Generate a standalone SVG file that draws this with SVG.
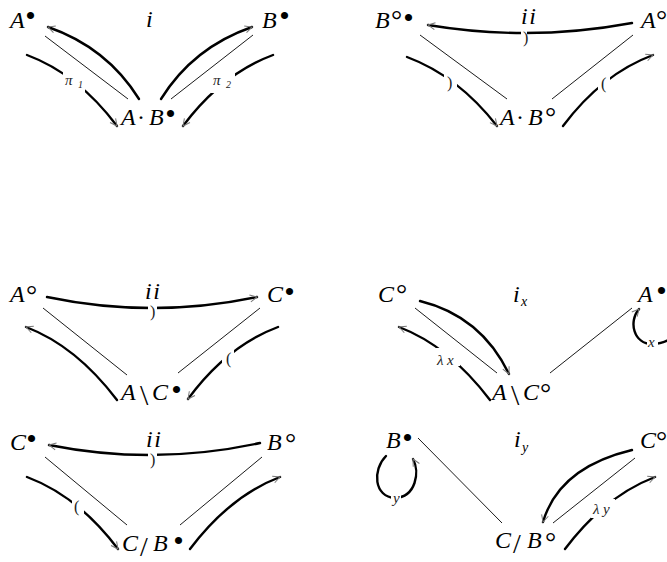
<svg xmlns="http://www.w3.org/2000/svg" width="667" height="562" viewBox="0 0 667 562">
<style>
.m{font-family:"Liberation Serif","Times New Roman",serif;font-style:italic;font-size:24px;fill:#000}
.u{font-style:normal}
.lab{font-family:"Liberation Serif","Times New Roman",serif;font-style:italic;font-size:15px;fill:#222}
.par{font-family:"Liberation Serif","Times New Roman",serif;font-size:16px;fill:#222}
.thick{fill:none;stroke:#000;stroke-width:2.4;stroke-linecap:round}
.thin{fill:none;stroke:#000;stroke-width:0.9}
.gap{fill:#fff}
</style>
<defs>
<marker id="ah" viewBox="-9 -5 10 10" refX="0" refY="0" markerWidth="10" markerHeight="10" markerUnits="userSpaceOnUse" orient="auto">
<path d="M-7,-3.5 L0,0 L-7,3.5" fill="none" stroke="#777" stroke-width="1"/>
</marker>
</defs>
<rect width="667" height="562" fill="#fff"/>
<g id="connectors">
<line class="thin" x1="45" y1="36" x2="128" y2="99"/>
<line class="thin" x1="171" y1="99" x2="253" y2="35"/>
<path class="thick" d="M139,99 Q107,47.5 48,27" marker-end="url(#ah)"/>
<path class="thick" d="M27,55 Q78,74 117,126" marker-end="url(#ah)"/>
<path class="thick" d="M161,99 Q193,47.5 252,27" marker-end="url(#ah)"/>
<path class="thick" d="M273,55 Q222,74 183,126" marker-end="url(#ah)"/>
<line class="thin" x1="420" y1="35" x2="507" y2="99"/>
<line class="thin" x1="552" y1="99" x2="633" y2="35"/>
<path class="thick" d="M632,23 Q530,42 428,25" marker-end="url(#ah)"/>
<path class="thick" d="M407,57 Q458,76 497,126" marker-end="url(#ah)"/>
<path class="thick" d="M563,126 Q602,74 653,55" marker-end="url(#ah)"/>
<line class="thin" x1="43" y1="308" x2="127" y2="375"/>
<line class="thin" x1="178" y1="373" x2="260" y2="308"/>
<path class="thick" d="M47,297 Q152,319 257,297" marker-end="url(#ah)"/>
<path class="thick" d="M117,400 Q76,346 26,327" marker-end="url(#ah)"/>
<path class="thick" d="M278,327 Q227,346 188,399" marker-end="url(#ah)"/>
<line class="thin" x1="415" y1="308" x2="497" y2="373"/>
<line class="thin" x1="550" y1="373" x2="632" y2="308"/>
<path class="thick" d="M420,301 Q481,316 509,374" marker-end="url(#ah)"/>
<path class="thick" d="M490,400 Q449,346 399,327" marker-end="url(#ah)"/>
<path class="thick" d="M676,312 C682,335 668,344 652,344 C634,344 628,322 639,309" marker-end="url(#ah)"/>
<line class="thin" x1="45" y1="457" x2="127" y2="525"/>
<line class="thin" x1="180" y1="525" x2="262" y2="457"/>
<path class="thick" d="M260,443 Q154,466 49,445" marker-end="url(#ah)"/>
<path class="thick" d="M27,477 Q78,496 118,549" marker-end="url(#ah)"/>
<path class="thick" d="M190,549 Q230,496 280,477" marker-end="url(#ah)"/>
<line class="thin" x1="418" y1="438" x2="502" y2="523"/>
<line class="thin" x1="553" y1="523" x2="635" y2="458"/>
<path class="thick" d="M632,450 Q559,467.5 543,522" marker-end="url(#ah)"/>
<path class="thick" d="M565,549 Q605,496 655,477" marker-end="url(#ah)"/>
<path class="thick" d="M386,456 C372,470 374,497 395,498 C416,497 420,472 413,459" marker-end="url(#ah)"/>
<rect class="gap" x="63" y="72" width="22" height="21"/>
<rect class="gap" x="211" y="72" width="24" height="21"/>
<rect class="gap" x="444" y="74" width="13" height="18"/>
<rect class="gap" x="598" y="74" width="12" height="20"/>
<rect class="gap" x="521" y="29" width="6" height="11"/>
<rect class="gap" x="148" y="300" width="9" height="18"/>
<rect class="gap" x="222" y="346" width="12" height="22"/>
<rect class="gap" x="436" y="348" width="24" height="18"/>
<rect class="gap" x="647" y="338" width="11" height="11"/>
<rect class="gap" x="148" y="448" width="9" height="18"/>
<rect class="gap" x="72" y="496" width="12" height="20"/>
<rect class="gap" x="591" y="499" width="24" height="19"/>
<rect class="gap" x="391" y="494" width="10" height="11"/>
<text class="lab" x="65" y="85">π<tspan font-size="10" x="78" y="88">1</tspan></text>
<text class="lab" x="213" y="85">π<tspan font-size="10" x="226" y="88">2</tspan></text>
<text class="par" x="447" y="88">)</text>
<text class="par" x="601" y="89">(</text>
<text class="par" font-size="8" x="523" y="43">)</text>
<text class="par" font-size="14" x="150" y="317">)</text>
<text class="par" x="226" y="364">(</text>
<text class="lab" x="437" y="365">λ<tspan x="447">x</tspan></text>
<text class="lab" font-size="13" x="648" y="347">x</text>
<text class="par" font-size="14" x="150" y="465">)</text>
<text class="par" x="74" y="512">(</text>
<text class="lab" x="593" y="514">λ<tspan x="603">y</tspan></text>
<text class="lab" font-size="13" x="393" y="503">y</text>
</g>
<g id="p1-A"><text class="m" x="10" y="28">A<tspan class="u" font-size="30" x="25.3" y="26">•</tspan></text></g>
<g id="p1-i"><text class="m" x="146" y="27">i</text></g>
<g id="p1-B"><text class="m" x="262" y="28">B<tspan class="u" font-size="30" x="279.3" y="26">•</tspan></text></g>
<g id="p1-AB"><text class="m" y="125"><tspan x="121">A</tspan><tspan class="u" x="137">·</tspan><tspan x="149">B</tspan><tspan class="u" font-size="30" x="165.3" y="124">•</tspan></text></g>
<g id="p2-B"><text class="m" x="375" y="28">B<tspan class="u" font-size="28" x="391" y="29">°</tspan><tspan class="u" font-size="30" x="403.3" y="28">•</tspan></text></g>
<g id="p2-ii"><text class="m" x="521" y="24" letter-spacing="1.5">ii</text></g>
<g id="p2-A"><text class="m" x="641" y="28">A<tspan class="u" font-size="28" x="656" y="29">°</tspan></text></g>
<g id="p2-AB"><text class="m" y="125"><tspan x="500">A</tspan><tspan class="u" x="516">·</tspan><tspan x="528">B</tspan><tspan class="u" font-size="28" x="545" y="126">°</tspan></text></g>
<g id="p3-A"><text class="m" x="10" y="302">A<tspan class="u" font-size="28" x="26" y="304">°</tspan></text></g>
<g id="p3-ii"><text class="m" x="145" y="299" letter-spacing="1.5">ii</text></g>
<g id="p3-C"><text class="m" x="267" y="302">C<tspan class="u" font-size="30" x="284.3" y="302">•</tspan></text></g>
<g id="p3-AC"><text class="m" y="400"><tspan x="121">A</tspan><tspan class="u" font-size="30" x="140" y="405">\</tspan><tspan x="152" y="400">C</tspan><tspan class="u" font-size="30" x="171.3" y="400">•</tspan></text></g>
<g id="p4-C"><text class="m" x="378" y="302">C<tspan class="u" font-size="28" x="396" y="303">°</tspan></text></g>
<g id="p4-ix"><text class="m" x="513" y="302">i<tspan font-size="14" x="521" y="306">x</tspan></text></g>
<g id="p4-A"><text class="m" x="638" y="302">A<tspan class="u" font-size="30" x="656.3" y="301">•</tspan></text></g>
<g id="p4-AC"><text class="m" y="400"><tspan x="492">A</tspan><tspan class="u" font-size="30" x="511" y="405">\</tspan><tspan x="523" y="400">C</tspan><tspan class="u" font-size="28" x="540" y="402">°</tspan></text></g>
<g id="p5-C"><text class="m" x="10" y="450">C<tspan class="u" font-size="30" x="26.3" y="449">•</tspan></text></g>
<g id="p5-ii"><text class="m" x="146" y="447" letter-spacing="1.5">ii</text></g>
<g id="p5-B"><text class="m" x="267" y="450">B<tspan class="u" font-size="28" x="285" y="452">°</tspan></text></g>
<g id="p5-CB"><text class="m" y="551"><tspan x="122">C</tspan><tspan class="u" font-size="28" x="140" y="556">/</tspan><tspan x="153" y="551">B</tspan><tspan class="u" font-size="30" x="173.3" y="551">•</tspan></text></g>
<g id="p6-B"><text class="m" x="386" y="448">B<tspan class="u" font-size="30" x="402.3" y="448">•</tspan></text></g>
<g id="p6-iy"><text class="m" x="514" y="447">i<tspan font-size="14" x="522" y="452">y</tspan></text></g>
<g id="p6-C"><text class="m" x="640" y="448">C<tspan class="u" font-size="28" x="656" y="450">°</tspan></text></g>
<g id="p6-CB"><text class="m" y="548"><tspan x="495">C</tspan><tspan class="u" font-size="28" x="513" y="553">/</tspan><tspan x="527" y="548">B</tspan><tspan class="u" font-size="28" x="545" y="551">°</tspan></text></g>
</svg>
